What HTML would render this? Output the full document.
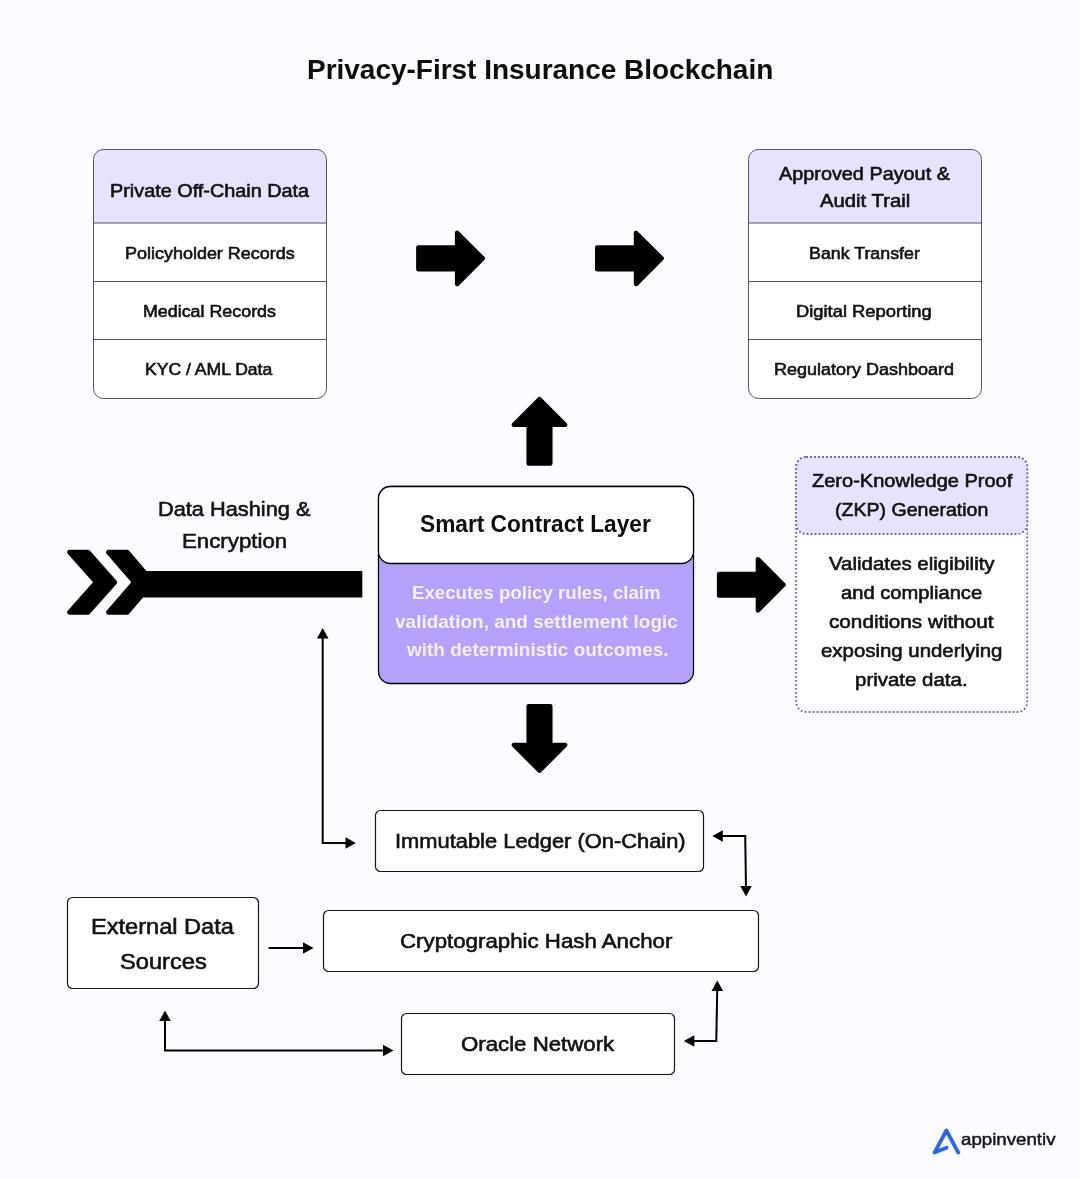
<!DOCTYPE html>
<html lang="en">
<head>
<meta charset="utf-8">
<title>Privacy-First Insurance Blockchain</title>
<style>
html,body{margin:0;padding:0;}
body{width:1080px;height:1179px;background:#fcfbff;position:relative;overflow:hidden;font-family:"Liberation Sans",sans-serif;}
#art,#labels{position:absolute;left:0;top:0;width:1080px;height:1179px;}
#labels{will-change:transform;}
.t{position:absolute;white-space:nowrap;line-height:1;transform-origin:0 0;font-family:"Liberation Sans",sans-serif;}
</style>
</head>
<body>
<svg id="art" width="1080" height="1179" viewBox="0 0 1080 1179">
<!-- Private Off-Chain Data table -->
<g>
<rect x="93.5" y="149.5" width="233" height="249" rx="10" ry="10" fill="#ffffff"/>
<path d="M93.5,223 V159.5 a10,10 0 0 1 10,-10 H316.5 a10,10 0 0 1 10,10 V223 Z" fill="#e9e2fe"/>
<path d="M93.5,223 H326.5 M93.5,281.5 H326.5 M93.5,339.5 H326.5" stroke="#55555a" stroke-width="1" fill="none"/>
<rect x="93.5" y="149.5" width="233" height="249" rx="10" ry="10" fill="none" stroke="#55555a" stroke-width="1"/>
</g>
<!-- Approved Payout table -->
<g>
<rect x="748.5" y="149.5" width="233" height="249" rx="10" ry="10" fill="#ffffff"/>
<path d="M748.5,223 V159.5 a10,10 0 0 1 10,-10 H971.5 a10,10 0 0 1 10,10 V223 Z" fill="#e9e2fe"/>
<path d="M748.5,223 H981.5 M748.5,281.5 H981.5 M748.5,339.5 H981.5" stroke="#55555a" stroke-width="1" fill="none"/>
<rect x="748.5" y="149.5" width="233" height="249" rx="10" ry="10" fill="none" stroke="#55555a" stroke-width="1"/>
</g>
<!-- Block arrows -->
<g fill="#000">
<path d="M416.10,247.55 A2.2,2.2 0 0 1 418.30,245.35 L454.90,245.35 L454.90,232.71 A2.2,2.2 0 0 1 458.66,231.16 L484.34,256.84 A2.2,2.2 0 0 1 484.34,259.96 L458.66,285.64 A2.2,2.2 0 0 1 454.90,284.09 L454.90,271.45 L418.30,271.45 A2.2,2.2 0 0 1 416.10,269.25 Z"/>
<path d="M595.00,247.55 A2.2,2.2 0 0 1 597.20,245.35 L633.80,245.35 L633.80,232.71 A2.2,2.2 0 0 1 637.56,231.16 L663.24,256.84 A2.2,2.2 0 0 1 663.24,259.96 L637.56,285.64 A2.2,2.2 0 0 1 633.80,284.09 L633.80,271.45 L597.20,271.45 A2.2,2.2 0 0 1 595.00,269.25 Z"/>
<path d="M716.90,573.95 A2.2,2.2 0 0 1 719.10,571.75 L755.70,571.75 L755.70,559.11 A2.2,2.2 0 0 1 759.46,557.56 L785.14,583.24 A2.2,2.2 0 0 1 785.14,586.36 L759.46,612.04 A2.2,2.2 0 0 1 755.70,610.49 L755.70,597.85 L719.10,597.85 A2.2,2.2 0 0 1 716.90,595.65 Z"/>
<path d="M528.65,465.80 A2.2,2.2 0 0 1 526.45,463.60 L526.45,427.00 L513.81,427.00 A2.2,2.2 0 0 1 512.26,423.24 L537.94,397.56 A2.2,2.2 0 0 1 541.06,397.56 L566.74,423.24 A2.2,2.2 0 0 1 565.19,427.00 L552.55,427.00 L552.55,463.60 A2.2,2.2 0 0 1 550.35,465.80 Z"/>
<path d="M550.35,704.00 A2.2,2.2 0 0 1 552.55,706.20 L552.55,742.80 L565.19,742.80 A2.2,2.2 0 0 1 566.74,746.56 L541.06,772.24 A2.2,2.2 0 0 1 537.94,772.24 L512.26,746.56 A2.2,2.2 0 0 1 513.81,742.80 L526.45,742.80 L526.45,706.20 A2.2,2.2 0 0 1 528.65,704.00 Z"/>
</g>
<!-- Chevron arrow -->
<g fill="#000">
<path d="M67.70,553.86 A2.5,2.5 0 0 1 69.57,549.70 L87.88,549.70 A2.5,2.5 0 0 1 89.75,550.54 L116.52,580.64 A2.5,2.5 0 0 1 116.52,583.96 L89.75,613.96 A2.5,2.5 0 0 1 87.88,614.80 L69.58,614.80 A2.5,2.5 0 0 1 67.72,610.64 L93.00,582.30 Z"/>
<path d="M106.59,553.84 A2.5,2.5 0 0 1 108.48,549.70 L127.05,549.70 A2.5,2.5 0 0 1 128.95,550.58 L146.40,571.00 L362.30,571.00 L362.30,597.60 L143.00,597.60 L128.95,613.93 A2.5,2.5 0 0 1 127.05,614.80 L108.49,614.80 A2.5,2.5 0 0 1 106.61,610.66 L131.30,582.30 Z"/>
</g>
<!-- Smart contract -->
<g>
<rect x="378.5" y="486.5" width="315" height="197" rx="12" ry="12" fill="#b5a0fb" stroke="#000" stroke-width="1.3"/>
<rect x="378.5" y="486.5" width="315" height="77" rx="12" ry="12" fill="#ffffff" stroke="#000" stroke-width="1.3"/>
</g>
<!-- ZKP -->
<g stroke="#6a5bcb" stroke-width="1.8" stroke-dasharray="1.8 2.2">
<rect x="796.2" y="457" width="231" height="255" rx="10" ry="10" fill="#ffffff"/>
<rect x="796.2" y="457" width="231" height="77" rx="10" ry="10" fill="#e9e2fe"/>
</g>
<!-- bottom boxes -->
<g fill="#ffffff" stroke="#161616" stroke-width="1.2">
<rect x="375.5" y="810.5" width="328" height="61" rx="5"/>
<rect x="67.5" y="897.5" width="191" height="91" rx="5"/>
<rect x="323.5" y="910.5" width="435" height="61" rx="5"/>
<rect x="401.5" y="1013.5" width="273" height="61" rx="5"/>
</g>
<!-- thin connectors -->
<g fill="none" stroke="#000" stroke-width="2">
<path d="M322.7,637 V843 H347"/>
<path d="M268.5,948 H304"/>
<path d="M165,1020 V1050.5 H384"/>
<path d="M722,836 H745.2 L746,888"/>
<path d="M717.2,990 L716.3,1041 H693"/>
</g>
<g fill="#000">
<path d="M322.7,628 L328.5,638.5 H316.9 Z"/>
<path d="M355.8,843 L345.5,848.8 V837.2 Z"/>
<path d="M313.5,948 L303,953.8 V942.2 Z"/>
<path d="M165,1010.5 L170.8,1021 H159.2 Z"/>
<path d="M393.5,1050.5 L383,1056.3 V1044.7 Z"/>
<path d="M712.3,836 L722.8,830.2 V841.8 Z"/>
<path d="M746,896.5 L740.2,886 H751.8 Z"/>
<path d="M717.3,980.5 L723.1,991 H711.5 Z"/>
<path d="M683.8,1041 L694.3,1035.2 V1046.8 Z"/>
</g>
<!-- logo mark -->
<g fill="none" stroke="#2868ee" stroke-width="3.8" stroke-linecap="round" stroke-linejoin="round">
<path d="M946.6,1147.8 L934.5,1152.6 L946.4,1130.5 L958.3,1152.6"/>
</g>
</svg>
<div id="labels">
<div class="t" style="left:307.36px;top:56.00px;font-size:28px;font-weight:700;color:#0d0d0d;transform:scaleX(0.9987);">Privacy-First Insurance Blockchain</div>
<div class="t" style="left:110.48px;top:182.00px;font-size:18.5px;font-weight:400;color:#121212;transform:scaleX(1.0718);-webkit-text-stroke:0.6px #121212;">Private Off-Chain Data</div>
<div class="t" style="left:125.29px;top:245.00px;font-size:16.5px;font-weight:400;color:#121212;transform:scaleX(1.0887);-webkit-text-stroke:0.6px #121212;">Policyholder Records</div>
<div class="t" style="left:143.06px;top:303.00px;font-size:16.5px;font-weight:400;color:#121212;transform:scaleX(1.0819);-webkit-text-stroke:0.6px #121212;">Medical Records</div>
<div class="t" style="left:145.39px;top:361.00px;font-size:16.5px;font-weight:400;color:#121212;transform:scaleX(1.0648);-webkit-text-stroke:0.6px #121212;">KYC / AML Data</div>
<div class="t" style="left:779.19px;top:165.00px;font-size:18.5px;font-weight:400;color:#121212;transform:scaleX(1.0721);-webkit-text-stroke:0.6px #121212;">Approved Payout &amp;</div>
<div class="t" style="left:820.02px;top:192.00px;font-size:18.5px;font-weight:400;color:#121212;transform:scaleX(1.0962);-webkit-text-stroke:0.6px #121212;">Audit Trail</div>
<div class="t" style="left:809.27px;top:245.00px;font-size:16.5px;font-weight:400;color:#121212;transform:scaleX(1.0792);-webkit-text-stroke:0.6px #121212;">Bank Transfer</div>
<div class="t" style="left:796.34px;top:303.00px;font-size:16.5px;font-weight:400;color:#121212;transform:scaleX(1.1123);-webkit-text-stroke:0.6px #121212;">Digital Reporting</div>
<div class="t" style="left:773.70px;top:361.00px;font-size:16.5px;font-weight:400;color:#121212;transform:scaleX(1.0904);-webkit-text-stroke:0.6px #121212;">Regulatory Dashboard</div>
<div class="t" style="left:158.43px;top:499.00px;font-size:20.5px;font-weight:400;color:#121212;transform:scaleX(1.0614);-webkit-text-stroke:0.6px #121212;">Data Hashing &amp;</div>
<div class="t" style="left:181.71px;top:531.00px;font-size:20.5px;font-weight:400;color:#121212;transform:scaleX(1.0858);-webkit-text-stroke:0.6px #121212;">Encryption</div>
<div class="t" style="left:420.44px;top:513.00px;font-size:23px;font-weight:700;color:#0d0d0d;transform:scaleX(0.9866);">Smart Contract Layer</div>
<div class="t" style="left:412.18px;top:584.00px;font-size:18.5px;font-weight:700;color:#f4f0ff;transform:scaleX(1.0071);">Executes policy rules, claim</div>
<div class="t" style="left:395.29px;top:613.00px;font-size:18.5px;font-weight:700;color:#f4f0ff;transform:scaleX(1.0266);">validation, and settlement logic</div>
<div class="t" style="left:407.28px;top:641.00px;font-size:18.5px;font-weight:700;color:#f4f0ff;transform:scaleX(1.0261);">with deterministic outcomes.</div>
<div class="t" style="left:812.27px;top:472.00px;font-size:18.5px;font-weight:400;color:#121212;transform:scaleX(1.0822);-webkit-text-stroke:0.6px #121212;">Zero-Knowledge Proof</div>
<div class="t" style="left:835.23px;top:501.00px;font-size:18.5px;font-weight:400;color:#121212;transform:scaleX(1.0576);-webkit-text-stroke:0.6px #121212;">(ZKP) Generation</div>
<div class="t" style="left:828.56px;top:555.00px;font-size:18.5px;font-weight:400;color:#121212;transform:scaleX(1.1055);-webkit-text-stroke:0.6px #121212;">Validates eligibility</div>
<div class="t" style="left:840.52px;top:584.00px;font-size:18.5px;font-weight:400;color:#121212;transform:scaleX(1.0892);-webkit-text-stroke:0.6px #121212;">and compliance</div>
<div class="t" style="left:829.07px;top:613.00px;font-size:18.5px;font-weight:400;color:#121212;transform:scaleX(1.1190);-webkit-text-stroke:0.6px #121212;">conditions without</div>
<div class="t" style="left:820.55px;top:642.00px;font-size:18.5px;font-weight:400;color:#121212;transform:scaleX(1.1027);-webkit-text-stroke:0.6px #121212;">exposing underlying</div>
<div class="t" style="left:855.44px;top:671.00px;font-size:18.5px;font-weight:400;color:#121212;transform:scaleX(1.1062);-webkit-text-stroke:0.6px #121212;">private data.</div>
<div class="t" style="left:395.46px;top:831.00px;font-size:20px;font-weight:400;color:#121212;transform:scaleX(1.0940);-webkit-text-stroke:0.6px #121212;">Immutable Ledger (On-Chain)</div>
<div class="t" style="left:90.69px;top:917.00px;font-size:21.5px;font-weight:400;color:#121212;transform:scaleX(1.0970);-webkit-text-stroke:0.6px #121212;">External Data</div>
<div class="t" style="left:120.41px;top:952.00px;font-size:21.5px;font-weight:400;color:#121212;transform:scaleX(1.1006);-webkit-text-stroke:0.6px #121212;">Sources</div>
<div class="t" style="left:399.92px;top:931.00px;font-size:20px;font-weight:400;color:#121212;transform:scaleX(1.1135);-webkit-text-stroke:0.6px #121212;">Cryptographic Hash Anchor</div>
<div class="t" style="left:460.82px;top:1034.00px;font-size:20px;font-weight:400;color:#121212;transform:scaleX(1.1116);-webkit-text-stroke:0.6px #121212;">Oracle Network</div>
<div class="t" style="left:960.97px;top:1131.00px;font-size:16.5px;font-weight:400;color:#15151a;transform:scaleX(1.1328);-webkit-text-stroke:0.45px #15151a;">appinventiv</div>
</div>
</body>
</html>
